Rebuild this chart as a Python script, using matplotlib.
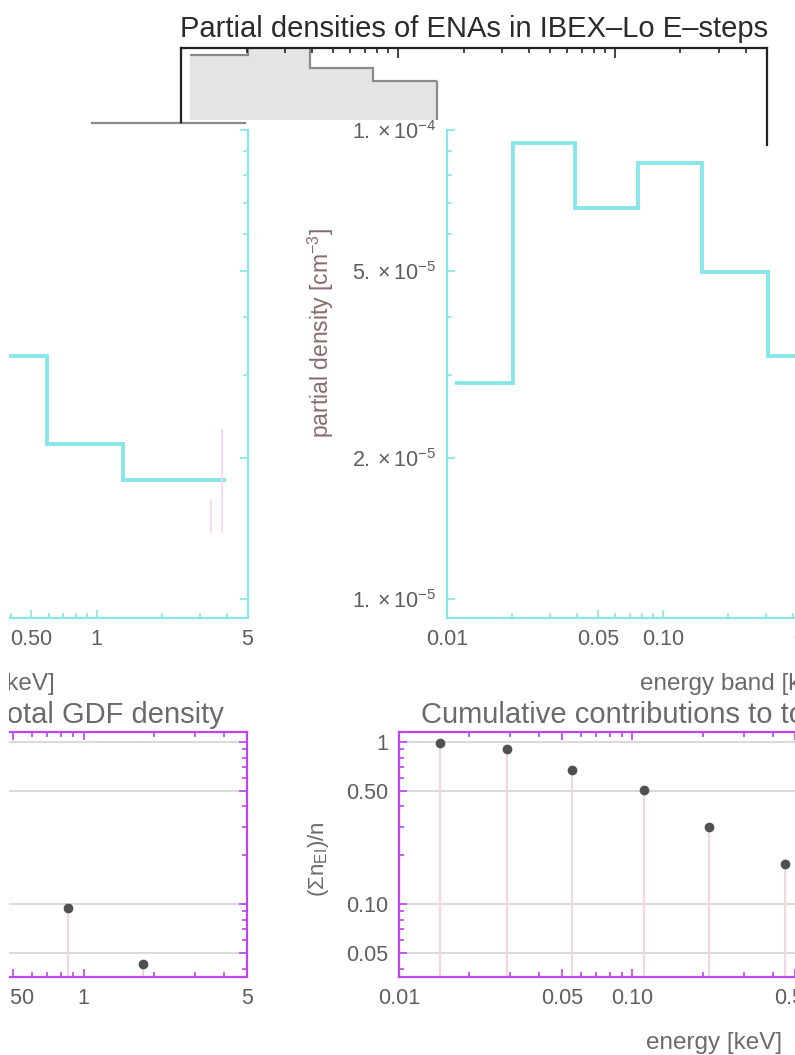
import numpy as np
import matplotlib
matplotlib.use("Agg")
import matplotlib.pyplot as plt
from matplotlib.ticker import FixedLocator, FixedFormatter, LogLocator, NullFormatter
from matplotlib.patches import Rectangle

plt.rcParams['font.family'] = ['Liberation Sans', 'DejaVu Sans']
plt.rcParams['mathtext.fontset'] = 'custom'
plt.rcParams['mathtext.rm'] = 'Liberation Sans'
plt.rcParams['mathtext.it'] = 'Liberation Sans:italic'
plt.rcParams['mathtext.bf'] = 'Liberation Sans:bold'

# IBEX-Lo energy steps: band edges [keV] and partial densities [cm^-3]
band_edges = [0.0109, 0.0202, 0.0391, 0.0766, 0.1515, 0.306, 0.590, 1.33, 3.98]
partial_density = [2.89e-5, 9.37e-5, 6.82e-5, 8.50e-5, 4.98e-5, 3.30e-5, 2.14e-5, 1.79e-5]

# step centre energies [keV] and cumulative share of the total density
step_energy = [0.0150, 0.0291, 0.0550, 0.112, 0.214, 0.45, 0.86, 1.80]
cum_fraction = [0.982, 0.905, 0.672, 0.505, 0.299, 0.177, 0.094, 0.0426]

# grey histogram inside the black frame
grey_edges = [1.09, 2.02, 3.91, 7.66, 15.15]
grey_heights = [0.923, 1.10, 0.794, 0.660]
grey_base = 0.258
grey_stub = [0.387, 1.96]   # loose grey line under the frame
grey_stub_y = 0.224

# faint pink stems leaking into the upper left panel
pink_x = [3.39, 3.80]
pink_top = [1.63e-5, 2.30e-5]
pink_bottom = 1.38e-5

x_ticks = [0.01, 0.05, 0.1, 0.5, 1, 5]
x_ticklabels = ["0.01", "0.05", "0.10", "0.50", "1", "5"]
dens_ticks = [1e-5, 2e-5, 5e-5, 1e-4]
dens_ticklabels = [r"$1.\times10^{-5}$", r"$2.\times10^{-5}$",
                   r"$5.\times10^{-5}$", r"$1.\times10^{-4}$"]
frac_ticks = [0.05, 0.1, 0.5, 1]
frac_ticklabels = ["0.05", "0.10", "0.50", "1"]

W, H = 795, 1055
CYAN = "#88e6e8"
MAGENTA = "#bd45ee"
TXT = "#5e5e5e"


def place(l, t, r, b):
    return [l / W, 1 - b / H, (r - l) / W, (b - t) / H]


fig = plt.figure(figsize=(W / 100, H / 100), dpi=100)


def log_axes(ax, col, yticks, ylabels, ylim, top_spine=True):
    ax.set_xscale("log")
    ax.set_yscale("log")
    ax.set_xlim(0.01, 5)
    ax.set_ylim(*ylim)
    ax.xaxis.set_major_locator(FixedLocator(x_ticks))
    ax.xaxis.set_major_formatter(FixedFormatter(x_ticklabels))
    ax.xaxis.set_minor_locator(LogLocator(base=10, subs=np.arange(2, 10)))
    ax.xaxis.set_minor_formatter(NullFormatter())
    ax.yaxis.set_major_locator(FixedLocator(yticks))
    ax.yaxis.set_major_formatter(FixedFormatter(ylabels))
    ax.yaxis.set_minor_locator(LogLocator(base=10, subs=np.arange(2, 10)))
    ax.yaxis.set_minor_formatter(NullFormatter())
    for s in ax.spines.values():
        s.set_color(col)
        s.set_linewidth(1.6)
    ax.spines["top"].set_visible(top_spine)
    ax.tick_params(which="both", direction="in", color=col, width=1.2,
                   left=True, right=True, bottom=True, top=top_spine,
                   labelcolor=TXT, labelsize=15.5, pad=8)
    ax.tick_params(which="major", length=6)
    ax.tick_params(which="minor", length=3.5)
    ax.set_facecolor("none")


# bottom panels: cumulative contributions
for l, r in [(-383, 246.7), (399, 1028.7)]:
    ax = fig.add_axes(place(l, 732.3, r, 976.7))
    log_axes(ax, MAGENTA, frac_ticks, frac_ticklabels, (0.0356, 1.148))
    for yv in frac_ticks:
        ax.axhline(yv, color="#d9d9d9", lw=1.4, zorder=0)
    ax.vlines(step_energy, 0.0356, cum_fraction, color="#f5d6da", lw=1.5, zorder=1)
    ax.plot(step_energy, cum_fraction, "o", color="#505050", ms=6, zorder=3)
    ax.set_title("Cumulative contributions to total GDF density", fontsize=21,
                 color="#6a6a6a", pad=7)
    ax.set_xlabel("energy [keV]", fontsize=17.5, color="#6a6a6a")
    ax.xaxis.set_label_coords(0.5, -0.225)
    ax.set_ylabel(r"($\Sigma$n$_{\mathrm{EI}}$)/n", fontsize=16, color="#6a6a6a")
    ax.yaxis.set_label_coords(-0.108, 0.48)

# top panels: partial densities
for l, r in [(-335.5, 247.5), (447, 1030)]:
    ax = fig.add_axes(place(l, 130, r, 618))
    log_axes(ax, CYAN, dens_ticks, dens_ticklabels, (9.1e-6, 1e-4), top_spine=False)
    ax.stairs(partial_density, band_edges, baseline=None, color=CYAN, lw=2.8)
    ax.vlines(pink_x, pink_bottom, pink_top, color="#f8d4f6", lw=1.2)
    ax.set_xlabel("energy band [keV]", fontsize=17.5, color="#6a6a6a")
    ax.xaxis.set_label_coords(0.5, -0.112)
    ax.set_ylabel(r"partial density [cm$^{-3}$]", fontsize=16.5, color="#8a6a6a")
    ax.yaxis.set_label_coords(-0.19, 0.585)

# black frame with grey histogram
axg = fig.add_axes(place(181.4, 48, 766.8, 145))
axg.set_xscale("log")
axg.set_xlim(1, 500)
axg.set_ylim(0, 1)
axg.set_facecolor("none")
axg.stairs(grey_heights, grey_edges, baseline=grey_base, fill=True,
           color="#e4e4e6", lw=0)
axg.stairs(grey_heights, grey_edges, baseline=None, color="#8a8a8a", lw=1.6)
axg.vlines(grey_edges[-1], grey_base, grey_heights[-1], color="#8a8a8a", lw=1.6)
axg.plot(grey_stub, [grey_stub_y] * 2, color="#8a8a8a", lw=1.6, clip_on=False)
axg.spines["bottom"].set_visible(False)
axg.spines["left"].set_bounds(0.237, 1)
for s in axg.spines.values():
    s.set_color("#222222")
    s.set_linewidth(1.6)
axg.xaxis.set_minor_locator(LogLocator(base=10, subs=np.arange(2, 10)))
axg.tick_params(which="both", direction="in", bottom=False, top=True,
                left=False, labelbottom=False, labelleft=False, color="#222222", width=1.2)
axg.tick_params(which="major", length=7)
axg.tick_params(which="minor", length=3.5)
axg.set_title("Partial densities of ENAs in IBEX\u2013Lo E\u2013steps",
              fontsize=21, color="#2a2a2a", pad=8)

# blank strip along the left edge
fig.patches.append(Rectangle((0, 0), 9 / W, 1, transform=fig.transFigure,
                             facecolor="white", edgecolor="none", zorder=50))

fig.savefig("out.png", dpi=100)
